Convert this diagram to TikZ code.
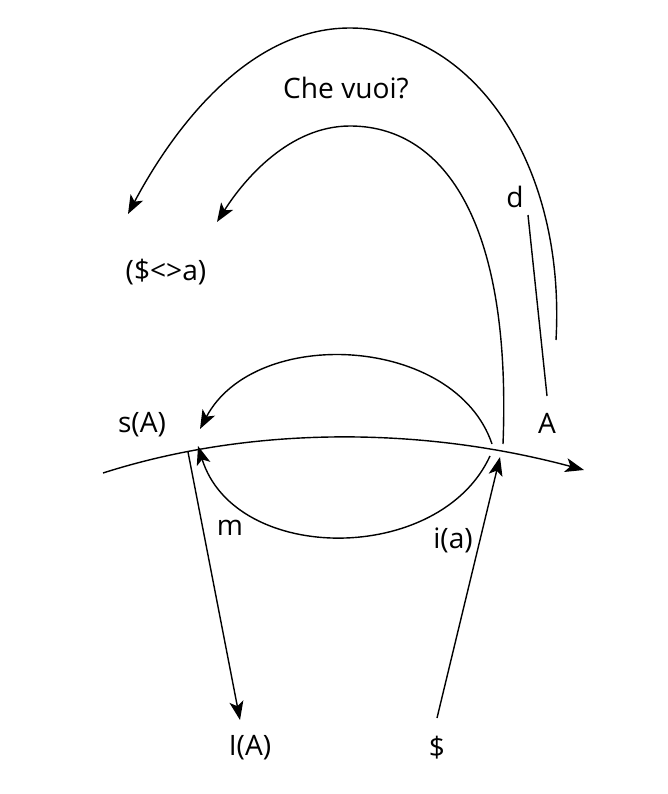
\documentclass[tikz,border=0pt]{standalone}
\usepackage{fontspec}
\setmainfont{Open Sans}
\usetikzlibrary{arrows.meta}

\begin{document}
\begin{tikzpicture}[x=0.03cm,y=-0.03cm]

\tikzstyle{every node}=[font=\fontsize{24}{28}\selectfont, inner sep=0pt]
\tikzstyle{line}=[line width=1.2pt]
\tikzstyle{arr}=[line, -{Stealth[length=16pt,width=12pt,inset=4pt]}]

\useasboundingbox (0,0) rectangle (667,794);

% labels
\node (chevuoi) at (346,88) {Che vuoi?};
\node (fantasy) at (166,272) {(\$<>a)};
\node (d) at (515,197) {d};
\node (sA) at (142,425) {s(A)};
\node (A) at (547,423) {A};
\node (m) at (230,528) {m};
\node (ia) at (453,540) {i(a)};
\node (IA) at (250,748) {I(A)};
\node (S) at (437,748) {\$};

% points
\coordinate (left) at (103,473);
\coordinate (right) at (584,470);
\coordinate (sAup) at (200,429);
\coordinate (sAlow) at (198,446);
\coordinate (Aup) at (492,444);
\coordinate (Alow) at (490,456);
\coordinate (Atop) at (503,444);
\coordinate (Ain) at (500,457);
\coordinate (mtop) at (188,452);
\coordinate (IAend) at (240,720);
\coordinate (Send) at (437,718);
\coordinate (dtop) at (528,215);
\coordinate (dbot) at (547,396);
\coordinate (outerbot) at (556,340);
\coordinate (outerend) at (128,214);
\coordinate (innerend) at (217,222);

\draw[arr] (left) .. controls (250,426) and (420,426) .. (right);

\draw[arr] (Aup) .. controls (455,335) and (255,325) .. (sAup);
\draw[arr] (Alow) .. controls (440,565) and (235,565) .. (sAlow);

\draw[arr] (mtop) -- (IAend);
\draw[arr] (Send) -- (Ain);

\draw[arr] (Atop) .. controls (512,215) and (440,126) .. (350,126)
  .. controls (290,126) and (245,178) .. (innerend);
\draw[arr] (outerbot) .. controls (566,160) and (470,28) .. (350,28)
  .. controls (245,28) and (170,135) .. (outerend);

\draw[line] (dtop) -- (dbot);

\end{tikzpicture}
\end{document}
